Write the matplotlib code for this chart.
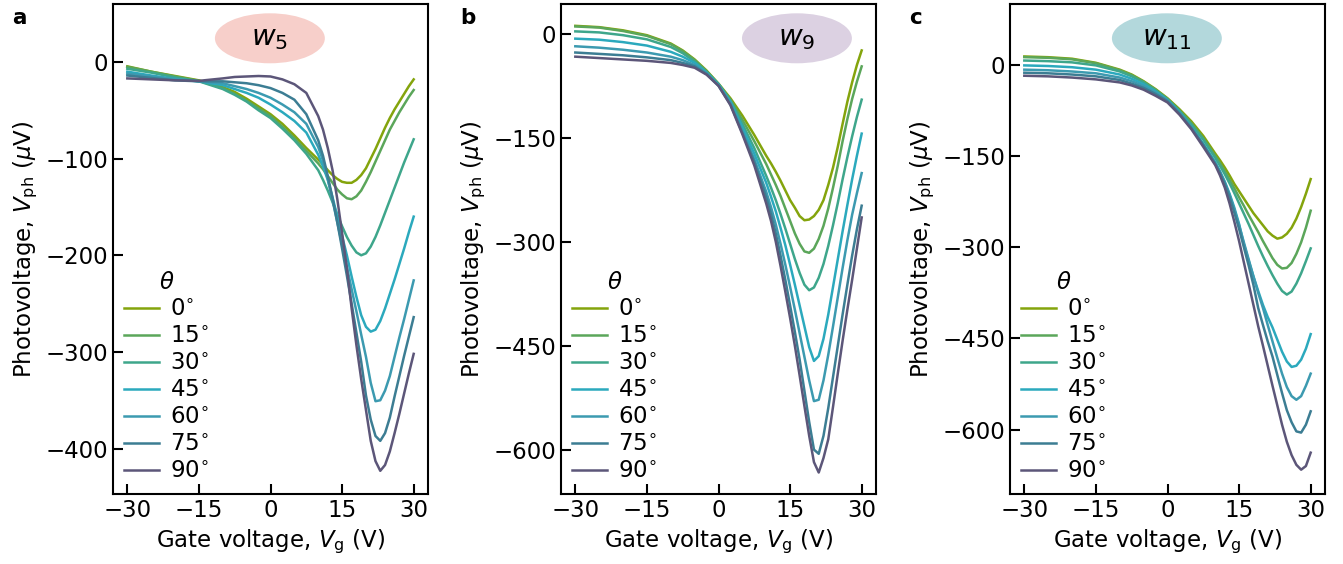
import numpy as np
import matplotlib
matplotlib.use("Agg")
import matplotlib.pyplot as plt
from matplotlib.patches import Ellipse

# gate voltage grid (V)
vg = [-30, -25, -20, -15, -10, -7.5, -5, -2.5, 0, 2.5, 5, 7.5] + list(range(10, 31))
angles = ["0", "15", "30", "45", "60", "75", "90"]
colors = ["#84a40c", "#5ba65a", "#3ea68b", "#2ba9bd", "#3c9ab0", "#3c7d93", "#5c5679"]

# panel a, w5 (uV)
w5_0 = [-4.5, -10, -14.5, -19, -26, -31, -38, -46, -54, -64, -76, -89,
        -101, -106, -112, -117, -121, -124, -125, -125, -122, -117, -110, -100, -90, -79, -68, -58, -49, -41, -33, -25, -18]
w5_15 = [-5, -10, -15, -19.5, -27, -33, -40, -48, -56, -67, -79, -92,
         -105, -111, -118, -125, -132, -137, -141, -142, -139, -133, -124, -114, -103, -92, -81, -70, -61, -52, -44, -36, -29]
w5_30 = [-7, -11, -16, -20, -28, -34, -41, -50, -58, -69, -81, -95,
         -112, -122, -133, -145, -158, -170, -181, -190, -197, -200, -198, -191, -181, -169, -156, -143, -130, -117, -104, -92, -80]
w5_45 = [-10, -14, -17.5, -20, -24, -28, -32, -37, -44, -52, -61, -73,
         -96, -108, -122, -140, -160, -180, -200, -222, -243, -262, -274, -279, -277, -268, -255, -240, -225, -209, -193, -176, -160]
w5_60 = [-12, -15, -18, -20, -22, -25, -28, -32, -37, -44, -52, -64,
         -88, -102, -121, -143, -166, -189, -212, -235, -258, -282, -305, -332, -351, -350, -340, -325, -305, -285, -266, -246, -226]
w5_75 = [-14, -16.5, -19, -20, -20, -21, -22, -24, -27, -32, -39, -54,
         -81, -97, -118, -141, -166, -193, -221, -250, -280, -310, -345, -370, -387, -392, -384, -368, -346, -325, -304, -284, -264]
w5_90 = [-17, -18, -19, -19.5, -17, -15.5, -15, -14.5, -15, -18, -23, -32,
         -56, -70, -89, -112, -142, -177, -213, -255, -293, -328, -360, -392, -413, -423, -417, -403, -384, -364, -343, -322, -302]

# panel b, w9 (uV)
w9_0 = [11.5, 9.6, 5, -2, -14, -24, -37, -53, -72, -93, -118, -146,
        -176, -187, -199, -212, -226, -240, -251, -263, -269, -268, -263, -254, -240, -218, -193, -163, -130, -98, -70, -45, -24]
w9_15 = [10.6, 9, 4, -3, -15, -25, -38, -54, -72, -95, -124, -155,
         -188, -203, -218, -234, -252, -270, -288, -303, -314, -316, -310, -296, -277, -252, -222, -190, -155, -123, -94, -69, -47]
w9_30 = [3.5, 2, -2, -8, -19, -28, -40, -55, -73, -97, -130, -165,
         -205, -222, -240, -260, -281, -303, -325, -345, -362, -370, -366, -352, -332, -306, -276, -244, -210, -178, -148, -120, -95]
w9_45 = [-7, -8.5, -12, -17, -26, -33, -42, -56, -73, -98, -135, -173,
         -215, -235, -256, -280, -305, -333, -362, -392, -422, -452, -472, -465, -440, -405, -365, -325, -285, -247, -210, -176, -144]
w9_60 = [-18, -20, -23, -27, -33, -38, -45, -57, -74, -100, -140, -181,
         -228, -250, -275, -303, -333, -365, -398, -432, -466, -500, -530, -528, -500, -463, -422, -380, -338, -298, -261, -230, -201]
w9_75 = [-27, -29, -31, -34, -38, -42, -47, -58, -75, -102, -143, -185,
         -236, -260, -288, -320, -355, -392, -430, -470, -515, -560, -600, -606, -580, -540, -495, -450, -405, -362, -320, -282, -248]
w9_90 = [-33, -35, -37, -39, -42, -45, -49, -59, -75, -103, -145, -190,
         -245, -270, -300, -335, -372, -410, -450, -493, -537, -580, -618, -633, -612, -585, -538, -490, -443, -398, -355, -310, -265]

# panel c, w11 (uV)
w11_0 = [13.7, 12.5, 10, 3.3, -8, -16, -27, -40, -55, -73, -93, -117,
         -146, -157, -169, -182, -196, -208, -220, -232, -244, -254, -264, -274, -281, -286, -284, -278, -268, -253, -234, -212, -188]
w11_15 = [12.6, 11.5, 9, 2.5, -9, -17, -28, -41, -56, -75, -96, -121,
          -150, -162, -175, -189, -203, -218, -232, -247, -261, -275, -290, -304, -318, -329, -335, -334, -326, -311, -292, -268, -240]
w11_30 = [7, 6, 4, -1, -11, -19, -29, -42, -57, -76, -98, -123,
          -153, -166, -180, -195, -211, -228, -245, -262, -280, -298, -315, -331, -346, -360, -372, -378, -373, -360, -343, -323, -302]
w11_45 = [-1, -2, -4, -8, -16, -23, -32, -44, -58, -78, -102, -130,
          -160, -175, -192, -212, -235, -262, -295, -322, -348, -372, -395, -415, -432, -452, -472, -488, -497, -495, -485, -467, -443]
w11_60 = [-8, -9, -11, -14, -21, -27, -35, -46, -59, -79, -103, -131,
          -162, -177, -194, -214, -238, -264, -292, -320, -348, -375, -400, -428, -455, -482, -508, -530, -545, -551, -545, -528, -508]
w11_75 = [-13, -14, -16, -19, -25, -31, -38, -48, -60, -80, -104, -132,
          -163, -178, -196, -218, -243, -270, -300, -330, -362, -400, -428, -455, -480, -510, -540, -568, -588, -603, -605, -592, -570]
w11_90 = [-18, -19, -21, -24, -29, -34, -41, -51, -62, -82, -106, -135,
          -165, -182, -202, -228, -258, -290, -325, -360, -395, -430, -462, -495, -528, -560, -592, -620, -642, -658, -666, -660, -638]

panels = [
    ("a", r"$w_5$", "#f7cfca", 0.498, [w5_0, w5_15, w5_30, w5_45, w5_60, w5_75, w5_90],
     (-447, 60), [-400, -300, -200, -100, 0]),
    ("b", r"$w_9$", "#dcd1e2", 0.749, [w9_0, w9_15, w9_30, w9_45, w9_60, w9_75, w9_90],
     (-664, 43), [-600, -450, -300, -150, 0]),
    ("c", r"$w_{11}$", "#b3d8dc", 0.498, [w11_0, w11_15, w11_30, w11_45, w11_60, w11_75, w11_90],
     (-706, 100), [-600, -450, -300, -150, 0]),
]

plt.rcParams["font.size"] = 16.5
plt.rcParams["axes.linewidth"] = 1.5

fig = plt.figure(figsize=(13.43, 5.64), dpi=100)
lefts = [113, 561, 1010]

for left, (tag, name, ecol, ex, series, ylim, yticks) in zip(lefts, panels):
    ax = fig.add_axes([left / 1343, 1 - 494 / 564, 315 / 1343, 490 / 564])
    for ys, ang, c in zip(series, angles, colors):
        assert len(ys) == len(vg)
        ax.plot(vg, ys, color=c, lw=1.8, label=ang + r"$^{\circ}$")
    ax.set_xlim(-33, 33)
    ax.set_ylim(*ylim)
    ax.set_xticks([-30, -15, 0, 15, 30])
    ax.set_yticks(yticks)
    ax.tick_params(direction="in", length=7, width=1.5)
    ax.set_xlabel(r"Gate voltage, $V_{\rm g}$ (V)")
    ax.set_ylabel(r"Photovoltage, $V_{\rm ph}$ ($\mu$V)")
    ax.add_patch(Ellipse((ex, 0.93), 0.349, 0.102, transform=ax.transAxes,
                         facecolor=ecol, edgecolor="none", zorder=0))
    ax.text(ex, 0.93, name, transform=ax.transAxes, ha="center", va="center", fontsize=21)
    ax.legend(title=r"$\theta$", loc="lower left", frameon=False, handlelength=1.5,
              handletextpad=0.5, labelspacing=0.17, borderaxespad=0.1, title_fontsize=16.5)
    fig.text((left - 101) / 1343, 1 - 18 / 564, tag, fontsize=15.5, fontweight="bold",
             va="center", ha="left")

fig.savefig("out.png", dpi=100)
